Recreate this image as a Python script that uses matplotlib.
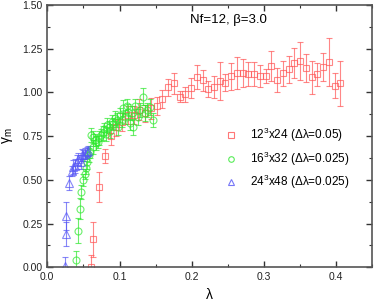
import matplotlib
matplotlib.use("Agg")
import matplotlib.pyplot as plt
from matplotlib.lines import Line2D
from matplotlib.ticker import MultipleLocator, FormatStrFormatter

plt.rcParams['font.family'] = ['Liberation Sans', 'DejaVu Sans']
plt.rcParams['mathtext.fontset'] = 'custom'
plt.rcParams['mathtext.rm'] = 'Liberation Sans'

# 12^3x24
red_x = [0.0604, 0.0631, 0.0710, 0.0797, 0.0877, 0.0956, 0.1036, 0.1115, 0.1195, 0.1274,
         0.1354, 0.1433, 0.1513, 0.1592, 0.1672, 0.1751, 0.1831, 0.1910, 0.1990, 0.2069,
         0.2149, 0.2228, 0.2308, 0.2387, 0.2467, 0.2546, 0.2626, 0.2705, 0.2785, 0.2864,
         0.2944, 0.3023, 0.3103, 0.3182, 0.3262, 0.3341, 0.3421, 0.3500, 0.3580, 0.3659,
         0.3739, 0.3818, 0.3898, 0.3977, 0.4057]
red_y = [0.00, 0.16, 0.46, 0.636, 0.750, 0.80, 0.83, 0.87, 0.87, 0.90,
         0.88, 0.91, 0.923, 0.962, 1.030, 1.051, 0.975, 0.99, 1.025, 1.087,
         1.070, 1.019, 1.030, 1.065, 1.055, 1.093, 1.110, 1.110, 1.106, 1.105,
         1.093, 1.093, 1.150, 1.072, 1.109, 1.131, 1.169, 1.179, 1.139, 1.086,
         1.103, 1.145, 1.173, 1.038, 1.051]
red_err = [0.07, 0.10, 0.086, 0.04, 0.05, 0.05, 0.05, 0.05, 0.05, 0.06,
           0.05, 0.06, 0.05, 0.05, 0.048, 0.06, 0.03, 0.043, 0.057, 0.069,
           0.06, 0.045, 0.064, 0.11, 0.048, 0.077, 0.09, 0.08, 0.067, 0.07,
           0.064, 0.04, 0.086, 0.07, 0.07, 0.076, 0.086, 0.11, 0.08, 0.093,
           0.065, 0.082, 0.136, 0.071, 0.129]

# 16^3x32
green_x = [0.0400, 0.0424, 0.0456, 0.0472, 0.0497, 0.0520, 0.0535, 0.0553, 0.0575, 0.0590,
           0.0610, 0.0627, 0.0636, 0.0660, 0.0680, 0.0700, 0.0720, 0.0750, 0.0770, 0.0790,
           0.0810, 0.0830, 0.0850, 0.0870, 0.0890, 0.0910, 0.0935, 0.0960, 0.0980, 0.1000,
           0.1030, 0.1050, 0.1075, 0.1097, 0.1120, 0.1150, 0.1170, 0.1190, 0.1220, 0.1250,
           0.1280, 0.1320, 0.1350, 0.1380, 0.1420, 0.1460]
green_y = [0.04, 0.21, 0.335, 0.432, 0.499, 0.533, 0.57, 0.603, 0.64, 0.66,
           0.756, 0.746, 0.689, 0.727, 0.71, 0.718, 0.74, 0.756, 0.77, 0.79,
           0.76, 0.813, 0.80, 0.78, 0.83, 0.82, 0.851, 0.84, 0.80, 0.87,
           0.84, 0.909, 0.86, 0.922, 0.89, 0.823, 0.88, 0.803, 0.92, 0.86,
           0.90, 0.975, 0.88, 0.90, 0.918, 0.842]
green_err = [0.055, 0.07, 0.06, 0.04, 0.035, 0.03, 0.035, 0.04, 0.04, 0.035,
             0.04, 0.035, 0.04, 0.035, 0.04, 0.035, 0.04, 0.035, 0.04, 0.035,
             0.04, 0.04, 0.035, 0.04, 0.04, 0.035, 0.04, 0.04, 0.045, 0.04,
             0.04, 0.045, 0.04, 0.04, 0.045, 0.04, 0.04, 0.045, 0.04, 0.045,
             0.04, 0.05, 0.045, 0.04, 0.045, 0.04]

# 24^3x48
blue_x = [0.0245, 0.0255, 0.0262, 0.0300, 0.0340, 0.0355, 0.0380, 0.0405, 0.0430, 0.0460,
          0.0475, 0.0500, 0.0520, 0.0545, 0.0567]
blue_y = [0.01, 0.19, 0.295, 0.48, 0.55, 0.575, 0.58, 0.603, 0.62, 0.60,
          0.642, 0.64, 0.65, 0.66, 0.666]
blue_err = [0.05, 0.07, 0.08, 0.04, 0.03, 0.04, 0.04, 0.04, 0.035, 0.04,
            0.035, 0.03, 0.03, 0.03, 0.03]

labels = ['12$^\\mathregular{3}$x24 (Δλ=0.05)',
          '16$^\\mathregular{3}$x32 (Δλ=0.025)',
          '24$^\\mathregular{3}$x48 (Δλ=0.025)']

c_red = '#ff5555'
c_green = '#2ee82e'
c_blue = '#5555f5'

fig = plt.figure(figsize=(3.74, 3.05), dpi=100)
ax = fig.add_axes([0.1265, 0.1236, 0.869, 0.8604])

common = dict(linestyle='none', elinewidth=0.8, capsize=2.4, capthick=0.8,
              markerfacecolor='none', markeredgewidth=0.8, alpha=0.7)
ax.errorbar(red_x, red_y, yerr=red_err, marker='s', markersize=4.5,
            color=c_red, ecolor=c_red, markeredgecolor=c_red, **common)
ax.errorbar(green_x, green_y, yerr=green_err, marker='o', markersize=5,
            color=c_green, ecolor=c_green, markeredgecolor=c_green, **common)
ax.errorbar(blue_x, blue_y, yerr=blue_err, marker='^', markersize=5.5,
            color=c_blue, ecolor=c_blue, markeredgecolor=c_blue, **common)

ax.set_xlim(0, 0.45)
ax.set_ylim(0, 1.5)
ax.xaxis.set_major_locator(MultipleLocator(0.1))
ax.xaxis.set_minor_locator(MultipleLocator(0.05))
ax.yaxis.set_major_locator(MultipleLocator(0.25))
ax.yaxis.set_minor_locator(MultipleLocator(0.125))
ax.xaxis.set_major_formatter(FormatStrFormatter('%.1f'))
ax.yaxis.set_major_formatter(FormatStrFormatter('%.2f'))
ax.tick_params(which='both', direction='in', top=True, right=True,
               labelsize=7.5, colors='#333333', labelcolor='#222222')
ax.tick_params(which='major', length=4, width=1)
ax.tick_params(which='minor', length=2.5, width=0.8)
for s in ax.spines.values():
    s.set_color('#555555')
    s.set_linewidth(1.2)

ax.set_xlabel('λ', fontsize=10, labelpad=4)
ax.set_ylabel('γ$_\\mathregular{m}$', fontsize=10, labelpad=5)

ax.text(0.197, 1.413, 'Nf=12, β=3.0', fontsize=9.5, ha='left', va='center')

handles = [Line2D([], [], linestyle='none', marker='s', markersize=4, markerfacecolor='none',
                  markeredgecolor=c_red, markeredgewidth=0.8, alpha=0.8),
           Line2D([], [], linestyle='none', marker='o', markersize=4, markerfacecolor='none',
                  markeredgecolor=c_green, markeredgewidth=0.8, alpha=0.8),
           Line2D([], [], linestyle='none', marker='^', markersize=4, markerfacecolor='none',
                  markeredgecolor=c_blue, markeredgewidth=0.8, alpha=0.8)]
ax.legend(handles, labels, loc='upper left', bbox_to_anchor=(0.53, 0.56),
          frameon=False, fontsize=8.5, handlelength=1.0, handletextpad=1.1,
          labelspacing=0.45, borderpad=0)

fig.savefig('out.png', dpi=100)
